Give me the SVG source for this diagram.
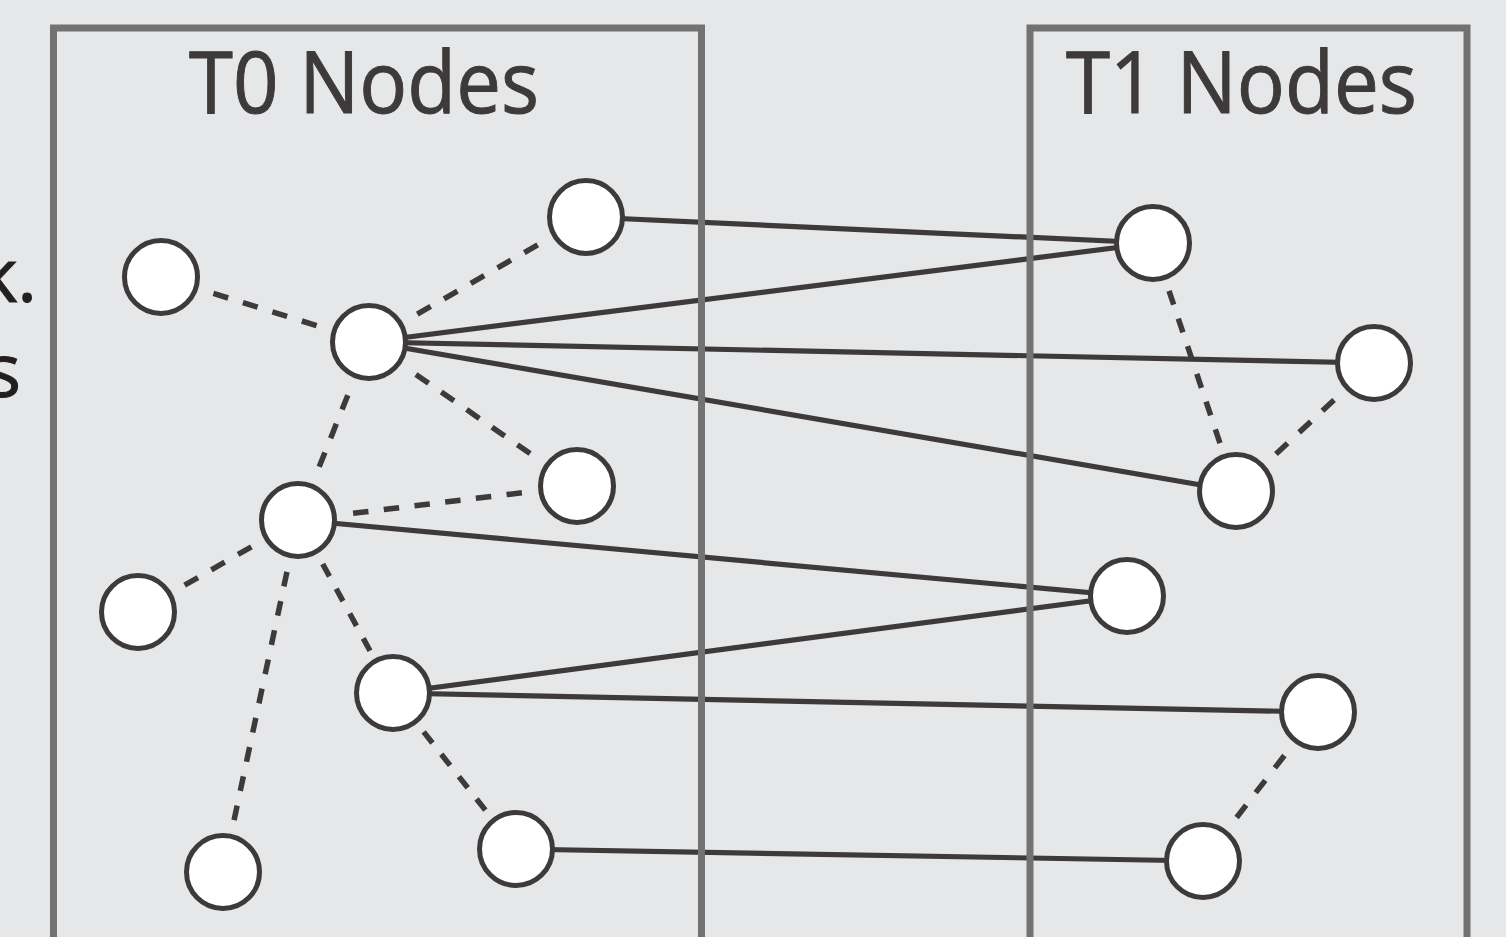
<svg xmlns="http://www.w3.org/2000/svg" width="1506" height="937" viewBox="0 0 1506 937">
  <style>
    .bg { fill: #e6e7e8; }
    .panel { fill: none; stroke: #727272; stroke-width: 7; }
    .title { font-family: "Open Sans", "Liberation Sans", sans-serif; font-size: 86px; fill: #3d3a39; stroke: #3d3a39; stroke-width: 1; }
    .side { font-family: "Open Sans", "Liberation Sans", sans-serif; font-size: 75px; fill: #231f20; stroke: #231f20; stroke-width: 1; text-anchor: end; }
    .node { fill: #ffffff; stroke: #3d3a39; stroke-width: 5; }
    .solid { stroke: #3d3a39; stroke-width: 5.2; fill: none; }
    .dash { stroke: #3d3a39; stroke-width: 5.5; fill: none; stroke-dasharray: 15 15; }
  </style>

  <rect class="bg" x="0" y="0" width="1506" height="937"/>

  <!-- partially visible caption on the left edge -->
  <text class="side" x="37" y="302">k.</text>
  <text class="side" x="21" y="397">s</text>

  <!-- connectors: solid links between panels, dashed links within a panel -->
  <g id="connectors">
    <line class="solid" x1="586" y1="217" x2="1153" y2="243"/>
    <line class="solid" x1="369" y1="342" x2="1153" y2="243"/>
    <line class="solid" x1="369" y1="342" x2="1374" y2="363"/>
    <line class="solid" x1="369" y1="342" x2="1236" y2="491"/>
    <line class="solid" x1="298" y1="520" x2="1127" y2="596"/>
    <line class="solid" x1="393" y1="693" x2="1127" y2="596"/>
    <line class="solid" x1="393" y1="693" x2="1318" y2="712"/>
    <line class="solid" x1="516" y1="849" x2="1203" y2="861"/>

    <line class="dash" x1="213.4" y1="293.4" x2="316.6" y2="325.6" pathLength="105"/>
    <line class="dash" x1="417.3" y1="314.2" x2="537.7" y2="244.8" pathLength="135"/>
    <line class="dash" x1="415.9" y1="374.4" x2="530.1" y2="453.6" pathLength="135"/>
    <line class="dash" x1="347.8" y1="395.2" x2="319.2" y2="466.8" pathLength="75"/>
    <line class="dash" x1="353.1" y1="513.3" x2="521.9" y2="492.7" pathLength="165"/>
    <line class="dash" x1="251.4" y1="546.8" x2="184.6" y2="585.2" pathLength="75"/>
    <line class="dash" x1="322.7" y1="564" x2="370" y2="650.7" pathLength="105"/>
    <line class="dash" x1="286.95" y1="571.84" x2="234.05" y2="820.16" pathLength="255"/>
    <line class="dash" x1="423.65" y1="731.87" x2="485.35" y2="810.13" pathLength="105"/>
    <line class="dash" x1="1169.03" y1="290.89" x2="1219.97" y2="443.11" pathLength="165"/>
    <line class="dash" x1="1334.04" y1="400.07" x2="1275.96" y2="453.93" pathLength="75"/>
    <line class="dash" x1="1284.4" y1="755.54" x2="1236.6" y2="817.46" pathLength="75"/>
  </g>

  <!-- the two node panels, drawn over the links that cross them -->
  <g id="panel-t0">
    <rect class="panel" x="53.5" y="28" width="648" height="960"/>
    <text class="title" x="189" y="113" textLength="350" lengthAdjust="spacingAndGlyphs">T0 Nodes</text>
  </g>
  <g id="panel-t1">
    <rect class="panel" x="1030" y="28" width="437" height="960"/>
    <text class="title" x="1066" y="113" textLength="351" lengthAdjust="spacingAndGlyphs">T1 Nodes</text>
  </g>

  <!-- T0 nodes -->
  <g id="n-a"><circle class="node" cx="586" cy="217" r="36.5"/></g>
  <g id="n-b"><circle class="node" cx="161" cy="277" r="36.5"/></g>
  <g id="n-c"><circle class="node" cx="369" cy="342" r="36.5"/></g>
  <g id="n-d"><circle class="node" cx="577" cy="486" r="36.5"/></g>
  <g id="n-e"><circle class="node" cx="298" cy="520" r="36.5"/></g>
  <g id="n-f"><circle class="node" cx="138" cy="612" r="36.5"/></g>
  <g id="n-g"><circle class="node" cx="393" cy="693" r="36.5"/></g>
  <g id="n-h"><circle class="node" cx="223" cy="872" r="36.5"/></g>
  <g id="n-i"><circle class="node" cx="516" cy="849" r="36.5"/></g>

  <!-- T1 nodes -->
  <g id="n-j"><circle class="node" cx="1153" cy="243" r="36.5"/></g>
  <g id="n-k"><circle class="node" cx="1374" cy="363" r="36.5"/></g>
  <g id="n-l"><circle class="node" cx="1236" cy="491" r="36.5"/></g>
  <g id="n-m"><circle class="node" cx="1127" cy="596" r="36.5"/></g>
  <g id="n-n"><circle class="node" cx="1318" cy="712" r="36.5"/></g>
  <g id="n-o"><circle class="node" cx="1203" cy="861" r="36.5"/></g>
</svg>
